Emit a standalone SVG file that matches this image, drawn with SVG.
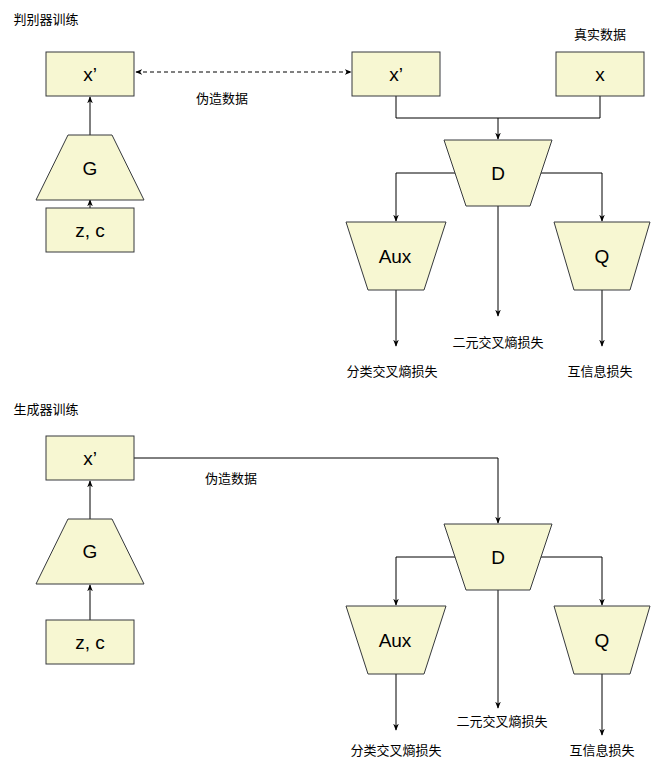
<svg xmlns="http://www.w3.org/2000/svg" width="656" height="763" viewBox="0 0 656 763">
<style>
.n{fill:#f7f7d2;stroke:#36393d;stroke-width:1}
.t{font-family:"Liberation Sans",Arial,sans-serif;font-size:19px;fill:#000;text-anchor:middle;dominant-baseline:central}
.s{font-family:"Noto Sans CJK SC",sans-serif;font-size:13px;fill:#000;text-anchor:middle;dominant-baseline:central}
.c{fill:none;stroke:#000;stroke-width:1}
</style>
<defs><marker id="a" viewBox="0 0 10 10" refX="9" refY="5" markerWidth="7" markerHeight="7" orient="auto-start-reverse"><path d="M0,1 L10,5 L0,9 L3,5 Z" fill="#000"/></marker></defs>
<rect width="656" height="763" fill="#fff"/>
<text class="s" x="46" y="18">判别器训练</text>
<text class="s" x="600" y="33">真实数据</text>
<text class="s" x="222" y="97">伪造数据</text>
<text class="s" x="392" y="370">分类交叉熵损失</text>
<text class="s" x="498" y="341">二元交叉熵损失</text>
<text class="s" x="600" y="370">互信息损失</text>
<text class="s" x="46" y="408">生成器训练</text>
<text class="s" x="231" y="477">伪造数据</text>
<text class="s" x="396" y="749">分类交叉熵损失</text>
<text class="s" x="502" y="720">二元交叉熵损失</text>
<text class="s" x="602" y="749">互信息损失</text>
<g id="connectors">
<path class="c" d="M90,208V200" marker-end="url(#a)"/>
<path class="c" d="M90,135V97" marker-end="url(#a)"/>
<path class="c" d="M136,72H351" stroke-dasharray="4,3" marker-start="url(#a)" marker-end="url(#a)"/>
<path class="c" d="M396,96V118H600V96M498,118V139" marker-end="url(#a)"/>
<path class="c" d="M457,173H396V221" marker-end="url(#a)"/>
<path class="c" d="M540,173H602V221" marker-end="url(#a)"/>
<path class="c" d="M396,290V346" marker-end="url(#a)"/>
<path class="c" d="M498,206V316" marker-end="url(#a)"/>
<path class="c" d="M602,290V346" marker-end="url(#a)"/>
<path class="c" d="M90,620V585" marker-end="url(#a)"/>
<path class="c" d="M90,519V481" marker-end="url(#a)"/>
<path class="c" d="M134,458H498V523" marker-end="url(#a)"/>
<path class="c" d="M457,557H396V605" marker-end="url(#a)"/>
<path class="c" d="M540,557H602V605" marker-end="url(#a)"/>
<path class="c" d="M396,674V730" marker-end="url(#a)"/>
<path class="c" d="M498,590V708" marker-end="url(#a)"/>
<path class="c" d="M602,674V735" marker-end="url(#a)"/>
</g>
<g id="x1"><rect class="n" x="46" y="52" width="88" height="44"/><text class="t" x="90" y="74">x’</text></g>
<g id="G1"><polygon class="n" points="68,135 112,135 144,200 36,200"/><text class="t" x="90" y="168">G</text></g>
<g id="zc1"><rect class="n" x="46" y="208" width="88" height="44"/><text class="t" x="90" y="230">z, c</text></g>
<g id="x2"><rect class="n" x="352" y="52" width="88" height="44"/><text class="t" x="396" y="74">x’</text></g>
<g id="xr"><rect class="n" x="556" y="52" width="88" height="44"/><text class="t" x="600" y="74">x</text></g>
<g id="D1"><polygon class="n" points="444,140 552,140 530,206 466,206"/><text class="t" x="498" y="173">D</text></g>
<g id="Aux1"><polygon class="n" points="346,222 446,222 424,290 368,290"/><text class="t" x="395" y="256">Aux</text></g>
<g id="Q1"><polygon class="n" points="554,222 650,222 630,290 574,290"/><text class="t" x="602" y="256">Q</text></g>
<g id="x3"><rect class="n" x="46" y="436" width="88" height="44"/><text class="t" x="90" y="458">x’</text></g>
<g id="G2"><polygon class="n" points="68,519 112,519 144,584 36,584"/><text class="t" x="90" y="551">G</text></g>
<g id="zc2"><rect class="n" x="46" y="620" width="88" height="44"/><text class="t" x="90" y="642">z, c</text></g>
<g id="D2"><polygon class="n" points="444,524 552,524 530,590 466,590"/><text class="t" x="498" y="557">D</text></g>
<g id="Aux2"><polygon class="n" points="346,606 446,606 424,674 368,674"/><text class="t" x="395" y="640">Aux</text></g>
<g id="Q2"><polygon class="n" points="554,606 650,606 630,674 574,674"/><text class="t" x="602" y="640">Q</text></g>
</svg>
